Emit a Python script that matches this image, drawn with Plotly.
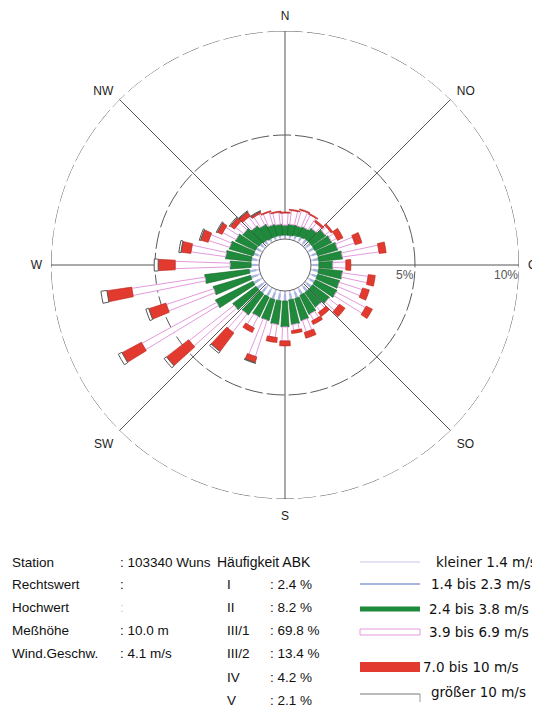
import numpy as np
import plotly.graph_objects as go

# ---------------- data ----------------
directions = list(range(0, 360, 10))  # compass sectors, degrees

kleiner_1_4 = [0.08, 0.08, 0.09, 0.10, 0.10, 0.10, 0.10, 0.12, 0.12, 0.12, 0.12, 0.12,
               0.12, 0.12, 0.12, 0.12, 0.13, 0.13, 0.14, 0.14, 0.14, 0.14, 0.14, 0.14,
               0.14, 0.14, 0.14, 0.12, 0.12, 0.10, 0.10, 0.10, 0.09, 0.08, 0.08, 0.08]
bis_2_3 = [0.11, 0.11, 0.15, 0.19, 0.24, 0.24, 0.24, 0.26, 0.26, 0.26, 0.26, 0.26,
           0.26, 0.26, 0.26, 0.26, 0.30, 0.30, 0.34, 0.34, 0.34, 0.34, 0.34, 0.34,
           0.34, 0.34, 0.34, 0.26, 0.26, 0.24, 0.24, 0.19, 0.15, 0.11, 0.11, 0.11]
bis_3_8 = [0.48, 0.53, 0.48, 0.48, 0.58, 0.82, 0.91, 1.01, 1.15, 0.67, 1.15, 1.11,
           1.15, 1.01, 0.87, 1.01, 1.11, 1.20, 1.25, 1.15, 1.06, 1.06, 1.25, 1.39,
           2.02, 1.88, 2.16, 1.01, 1.25, 1.20, 1.06, 0.96, 0.82, 0.72, 0.58, 0.53]
bis_6_9 = [0.58, 0.67, 0.77, 0.67, 0.34, 0.29, 0.29, 0.87, 1.78, 0.63, 1.25, 1.15,
           1.59, 0.58, 0.29, 0.34, 0.58, 0.29, 0.67, 0.63, 1.83, 0.58, 1.11, 2.74,
           4.09, 2.40, 3.56, 2.64, 1.68, 1.06, 0.72, 0.48, 0.58, 0.58, 0.63, 0.58]
bis_10 = [0.05, 0.05, 0.05, 0.05, 0.10, 0.10, 0.29, 0.34, 0.34, 0.24, 0.34, 0.34,
          0.34, 0.34, 0.24, 0.19, 0.29, 0.14, 0.24, 0.24, 0.29, 0.24, 1.11, 1.35,
          1.06, 0.87, 1.20, 0.82, 0.48, 0.38, 0.24, 0.24, 0.24, 0.10, 0.05, 0.05]
groesser_10 = [0, 0, 0, 0, 0, 0, 0, 0, 0, 0, 0, 0,
               0, 0, 0, 0, 0, 0, 0, 0, 0.03, 0, 0.10, 0.14,
               0.19, 0.14, 0.29, 0.19, 0.10, 0.06, 0.05, 0.05, 0.04, 0.03, 0, 0]

speed_labels = ["kleiner 1.4 m/s", "1.4 bis 2.3 m/s", "2.4 bis 3.8 m/s",
                "3.9 bis 6.9 m/s", "7.0 bis 10 m/s", "größer 10 m/s"]

compass_ticks = [0, 45, 90, 135, 180, 225, 270, 315]
compass_labels = ["N", "NO", "O", "SO", "S", "SW", "W", "NW"]
radial_ticks = [5, 10]
radial_labels = ["5%", "10%"]

station_fields = ["Station", "Rechtswert", "Hochwert", "Meßhöhe", "Wind.Geschw."]
station_values = [": 103340 Wuns", ":", ":", ": 10.0 m", ": 4.1 m/s"]
abk_title = "Häufigkeit ABK"
abk_classes = ["I", "II", "III/1", "III/2", "IV", "V"]
abk_freq = [2.4, 8.2, 69.8, 13.4, 4.2, 2.1]

# ---------------- layout geometry / styles ----------------
W, H = 540, 707
OFF = 8  # default page margin of the html body
R_PX, HOLE_PX = 234.0, 26.0
CX, CY = 285.0, 265.0
RMAX = 10.0
K = (R_PX - HOLE_PX) / RMAX  # px per percent
CIRCLE_DASH = "18px,4px"
TXT_FONT = "Liberation Sans, Arial, sans-serif"
LEG_FONT = "DejaVu Sans, Verdana, sans-serif"


def px(x):
    return (x - OFF) / W


def py(y):
    return 1 - (y - OFF) / H


DOM_X = [px(CX - R_PX), px(CX + R_PX)]
DOM_Y = [py(CY + R_PX), py(CY - R_PX)]

series = [kleiner_1_4, bis_2_3, bis_3_8, bis_6_9, bis_10, groesser_10]
styles = [
    dict(px=1.6, fill="#cbc3ef", line="#cbc3ef", lw=0),
    dict(px=2.4, fill="#a9b5dc", line="#a9b5dc", lw=0),
    dict(px=6.5, fill="#1f8a3b", line="#17662c", lw=0.6),
    dict(px=5.5, fill="#ffffff", line="#e39ade", lw=1.0),
    dict(px=10.5, fill="#e23a2e", line="#b8261d", lw=0.6),
    dict(px=12.0, fill="#ffffff", line="#555555", lw=1.0),
]

fig = go.Figure()

# outer (10 %) ring, drawn through the radial scale
ring_theta = list(range(0, 361, 2))
fig.add_trace(go.Scatterpolar(
    r=[RMAX] * len(ring_theta), theta=ring_theta, mode="lines",
    line=dict(color="#5a5a5a", width=1, dash=CIRCLE_DASH),
    showlegend=False, hoverinfo="skip"))

cum = np.zeros(len(directions))
for vals, st in zip(series, styles):
    v = np.array(vals, dtype=float)
    mid_px = HOLE_PX + K * (cum + v / 2)
    widths = np.degrees(st["px"] / mid_px)
    rv = [x if x > 0 else None for x in vals]
    fig.add_trace(go.Barpolar(
        r=rv, theta=directions, width=widths,
        marker=dict(color=st["fill"], line=dict(color=st["line"], width=st["lw"])),
        showlegend=False, hoverinfo="skip"))
    cum = cum + v

fig.update_layout(
    width=W, height=H,
    margin=dict(l=0, r=0, t=0, b=0),
    paper_bgcolor="white", plot_bgcolor="white",
    font=dict(family=TXT_FONT, size=12, color="#222"),
    polar=dict(
        domain=dict(x=DOM_X, y=DOM_Y),
        hole=HOLE_PX / R_PX,
        bgcolor="white",
        barmode="stack",
        radialaxis=dict(range=[0, RMAX], tickmode="array", tickvals=radial_ticks,
                        showticklabels=False, showline=False, ticks="",
                        gridcolor="#5a5a5a", gridwidth=1, griddash=CIRCLE_DASH,
                        angle=0),
        angularaxis=dict(rotation=90, direction="clockwise", tickmode="array",
                         tickvals=compass_ticks, ticktext=compass_labels,
                         showline=False, gridcolor="#555", gridwidth=1,
                         ticks="outside", ticklen=6, tickcolor="rgba(0,0,0,0)",
                         tickfont=dict(size=12, color="#222")),
    ),
)

shapes = [dict(type="circle", xref="paper", yref="paper",
               x0=px(CX - HOLE_PX), x1=px(CX + HOLE_PX),
               y0=py(CY + HOLE_PX), y1=py(CY - HOLE_PX),
               line=dict(color="#666", width=1), fillcolor="rgba(0,0,0,0)")]

ann = []


def text(x, y, s, color="#111", size=13.5, family=TXT_FONT, xanchor="left"):
    ann.append(dict(x=px(x), y=py(y), xref="paper", yref="paper", text=s,
                    showarrow=False, xanchor=xanchor, yanchor="middle",
                    font=dict(size=size, color=color, family=family)))


# radial scale labels, placed at their tick radius along the east axis
for tv, tl in zip(radial_ticks, radial_labels):
    text(CX + HOLE_PX + K * tv + 1, CY + 10, tl, color="#555", size=12,
         xanchor="right")

row_y = [562, 584, 607, 630, 653, 677, 700]
for i, (f, v) in enumerate(zip(station_fields, station_values)):
    text(10, row_y[i], f)
    text(118, row_y[i], v, color="#ccc" if f == "Hochwert" else "#111")
text(215, row_y[0], abk_title, size=14)
for i, (c, fq) in enumerate(zip(abk_classes, abk_freq)):
    text(225, row_y[i + 1], c)
    text(268, row_y[i + 1], f": {fq:.1f} %")

leg_y = [562, 584, 609, 632, 667, 692]
leg_x = [434, 429, 427, 427, 421, 429]
for i, lab in enumerate(speed_labels):
    text(leg_x[i], leg_y[i], lab, size=13.5, family=LEG_FONT)

x0l, x1l = 360, 420
shapes += [
    dict(type="line", xref="paper", yref="paper", x0=px(x0l), x1=px(x1l),
         y0=py(leg_y[0]), y1=py(leg_y[0]), line=dict(color="#cbc3ef", width=1)),
    dict(type="line", xref="paper", yref="paper", x0=px(x0l), x1=px(x1l),
         y0=py(leg_y[1]), y1=py(leg_y[1]), line=dict(color="#a9b5dc", width=2)),
    dict(type="rect", xref="paper", yref="paper", x0=px(x0l), x1=px(x1l),
         y0=py(leg_y[2] + 2.5), y1=py(leg_y[2] - 2.5), line=dict(width=0),
         fillcolor="#1f8a3b"),
    dict(type="rect", xref="paper", yref="paper", x0=px(x0l), x1=px(x1l),
         y0=py(leg_y[3] + 3), y1=py(leg_y[3] - 3), line=dict(color="#e39ade", width=1),
         fillcolor="white"),
    dict(type="rect", xref="paper", yref="paper", x0=px(x0l), x1=px(x1l),
         y0=py(leg_y[4] + 5), y1=py(leg_y[4] - 5), line=dict(width=0),
         fillcolor="#e23a2e"),
    dict(type="line", xref="paper", yref="paper", x0=px(x0l), x1=px(x1l),
         y0=py(leg_y[5] + 2), y1=py(leg_y[5] + 2), line=dict(color="#777", width=1)),
    dict(type="line", xref="paper", yref="paper", x0=px(x1l), x1=px(x1l),
         y0=py(leg_y[5] + 2), y1=py(leg_y[5] + 10), line=dict(color="#999", width=1)),
]

fig.update_layout(shapes=shapes, annotations=ann)
fig.write_html("out.html")
